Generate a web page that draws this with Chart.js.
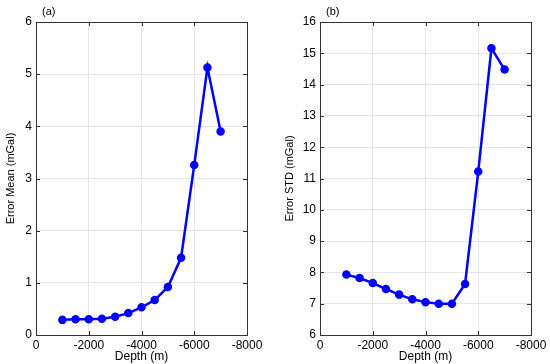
<!DOCTYPE html>
<html>
<head>
<meta charset="utf-8">
<script src="https://cdn.jsdelivr.net/npm/chart.js@4/dist/chart.umd.min.js"></script>
<style>
  html, body { margin: 0; padding: 0; background: #fff; }
  .panel { position: absolute; top: 0; width: 275px; height: 364px; }
  #left { left: 0; }
  #right { left: 275px; }
</style>
</head>
<body>
<div class="panel" id="left"><canvas id="meanChart"></canvas></div>
<div class="panel" id="right"><canvas id="stdChart"></canvas></div>
<script>
// Data
const depths = [-1000, -1500, -2000, -2500, -3000, -3500, -4000, -4500, -5000, -5500, -6000, -6500, -7000];
const errorMean = [0.29, 0.30, 0.30, 0.31, 0.35, 0.42, 0.53, 0.67, 0.92, 1.48, 3.26, 5.13, 3.90];
const errorStd = [7.93, 7.82, 7.66, 7.47, 7.29, 7.14, 7.05, 7.00, 7.00, 7.63, 11.22, 15.16, 14.48];
const depthTicks = [0, -2000, -4000, -6000, -8000];

const FONT = 'Liberation Sans, Arial, sans-serif';

// box around the plot area + panel label + small inward ticks like the original
const framePlugin = {
    id: 'frame',
    afterDraw(chart, args, opts) {
        const { ctx, chartArea: a } = chart;
        ctx.save();
        ctx.strokeStyle = '#333';
        ctx.lineWidth = 1;
        ctx.strokeRect(a.left + 0.5, a.top + 0.5, a.right - a.left, a.bottom - a.top);
        // inward tick marks
        const xs = chart.scales.x, ys = chart.scales.y;
        ctx.beginPath();
        xs.ticks.forEach(t => {
            const px = Math.round(xs.getPixelForValue(t.value)) + 0.5;
            ctx.moveTo(px, a.bottom); ctx.lineTo(px, a.bottom - 4);
            ctx.moveTo(px, a.top); ctx.lineTo(px, a.top + 4);
        });
        ys.ticks.forEach(t => {
            const py = Math.round(ys.getPixelForValue(t.value)) + 0.5;
            ctx.moveTo(a.left, py); ctx.lineTo(a.left + 4, py);
            ctx.moveTo(a.right, py); ctx.lineTo(a.right - 4, py);
        });
        ctx.stroke();
        ctx.fillStyle = '#000';
        ctx.font = '11px ' + FONT;
        ctx.textBaseline = 'middle';
        ctx.fillText(opts.label, a.left + 6, 12);
        ctx.restore();
    }
};

function makeChart(id, values, yMin, yMax, yTitle, label, leftPad, leftW, rightPad) {
    return new Chart(document.getElementById(id), {
        type: 'line',
        data: {
            labels: depths,
            datasets: [{
                data: depths.map((d, i) => ({ x: d, y: values[i] })),
                borderColor: '#0000ff',
                backgroundColor: '#0000ff',
                borderWidth: 2.5,
                pointRadius: 3,
                pointHoverRadius: 3,
                tension: 0
            }]
        },
        options: {
            responsive: true,
            maintainAspectRatio: false,
            animation: false,
            layout: { padding: { top: 22, right: rightPad, left: leftPad, bottom: 0 } },
            plugins: { legend: { display: false }, tooltip: { enabled: false }, frame: { label: label } },
            scales: {
                x: {
                    type: 'linear',
                    min: -8000, max: 0,
                    reverse: true,
                    afterBuildTicks: s => { s.ticks = depthTicks.map(v => ({ value: v })); },
                    afterFit: s => { s.height = 29; },
                    grid: { color: '#e6e6e6', drawTicks: false },
                    border: { display: false },
                    ticks: { color: '#000', font: { family: FONT, size: 12 }, padding: 3, maxRotation: 0,
                             callback: v => String(v) },
                    title: { display: true, text: 'Depth (m)', color: '#000', font: { family: FONT, size: 12 }, padding: 0 }
                },
                y: {
                    min: yMin, max: yMax,
                    ticks: { stepSize: 1, color: '#000', font: { family: FONT, size: 12 }, padding: 4,
                             callback: v => String(v) },
                    afterFit: s => { s.width = leftW; },
                    grid: { color: '#e6e6e6', drawTicks: false },
                    border: { display: false },
                    title: { display: true, text: yTitle, color: '#000', font: { family: FONT, size: 11 }, padding: 0 }
                }
            }
        },
        plugins: [framePlugin]
    });
}

makeChart('meanChart', errorMean, 0, 6, 'Error Mean (mGal)', '(a)', 4, 32, 28);
makeChart('stdChart', errorStd, 6, 16, 'Error STD (mGal)', '(b)', 8, 37, 19);
</script>
</body>
</html>
